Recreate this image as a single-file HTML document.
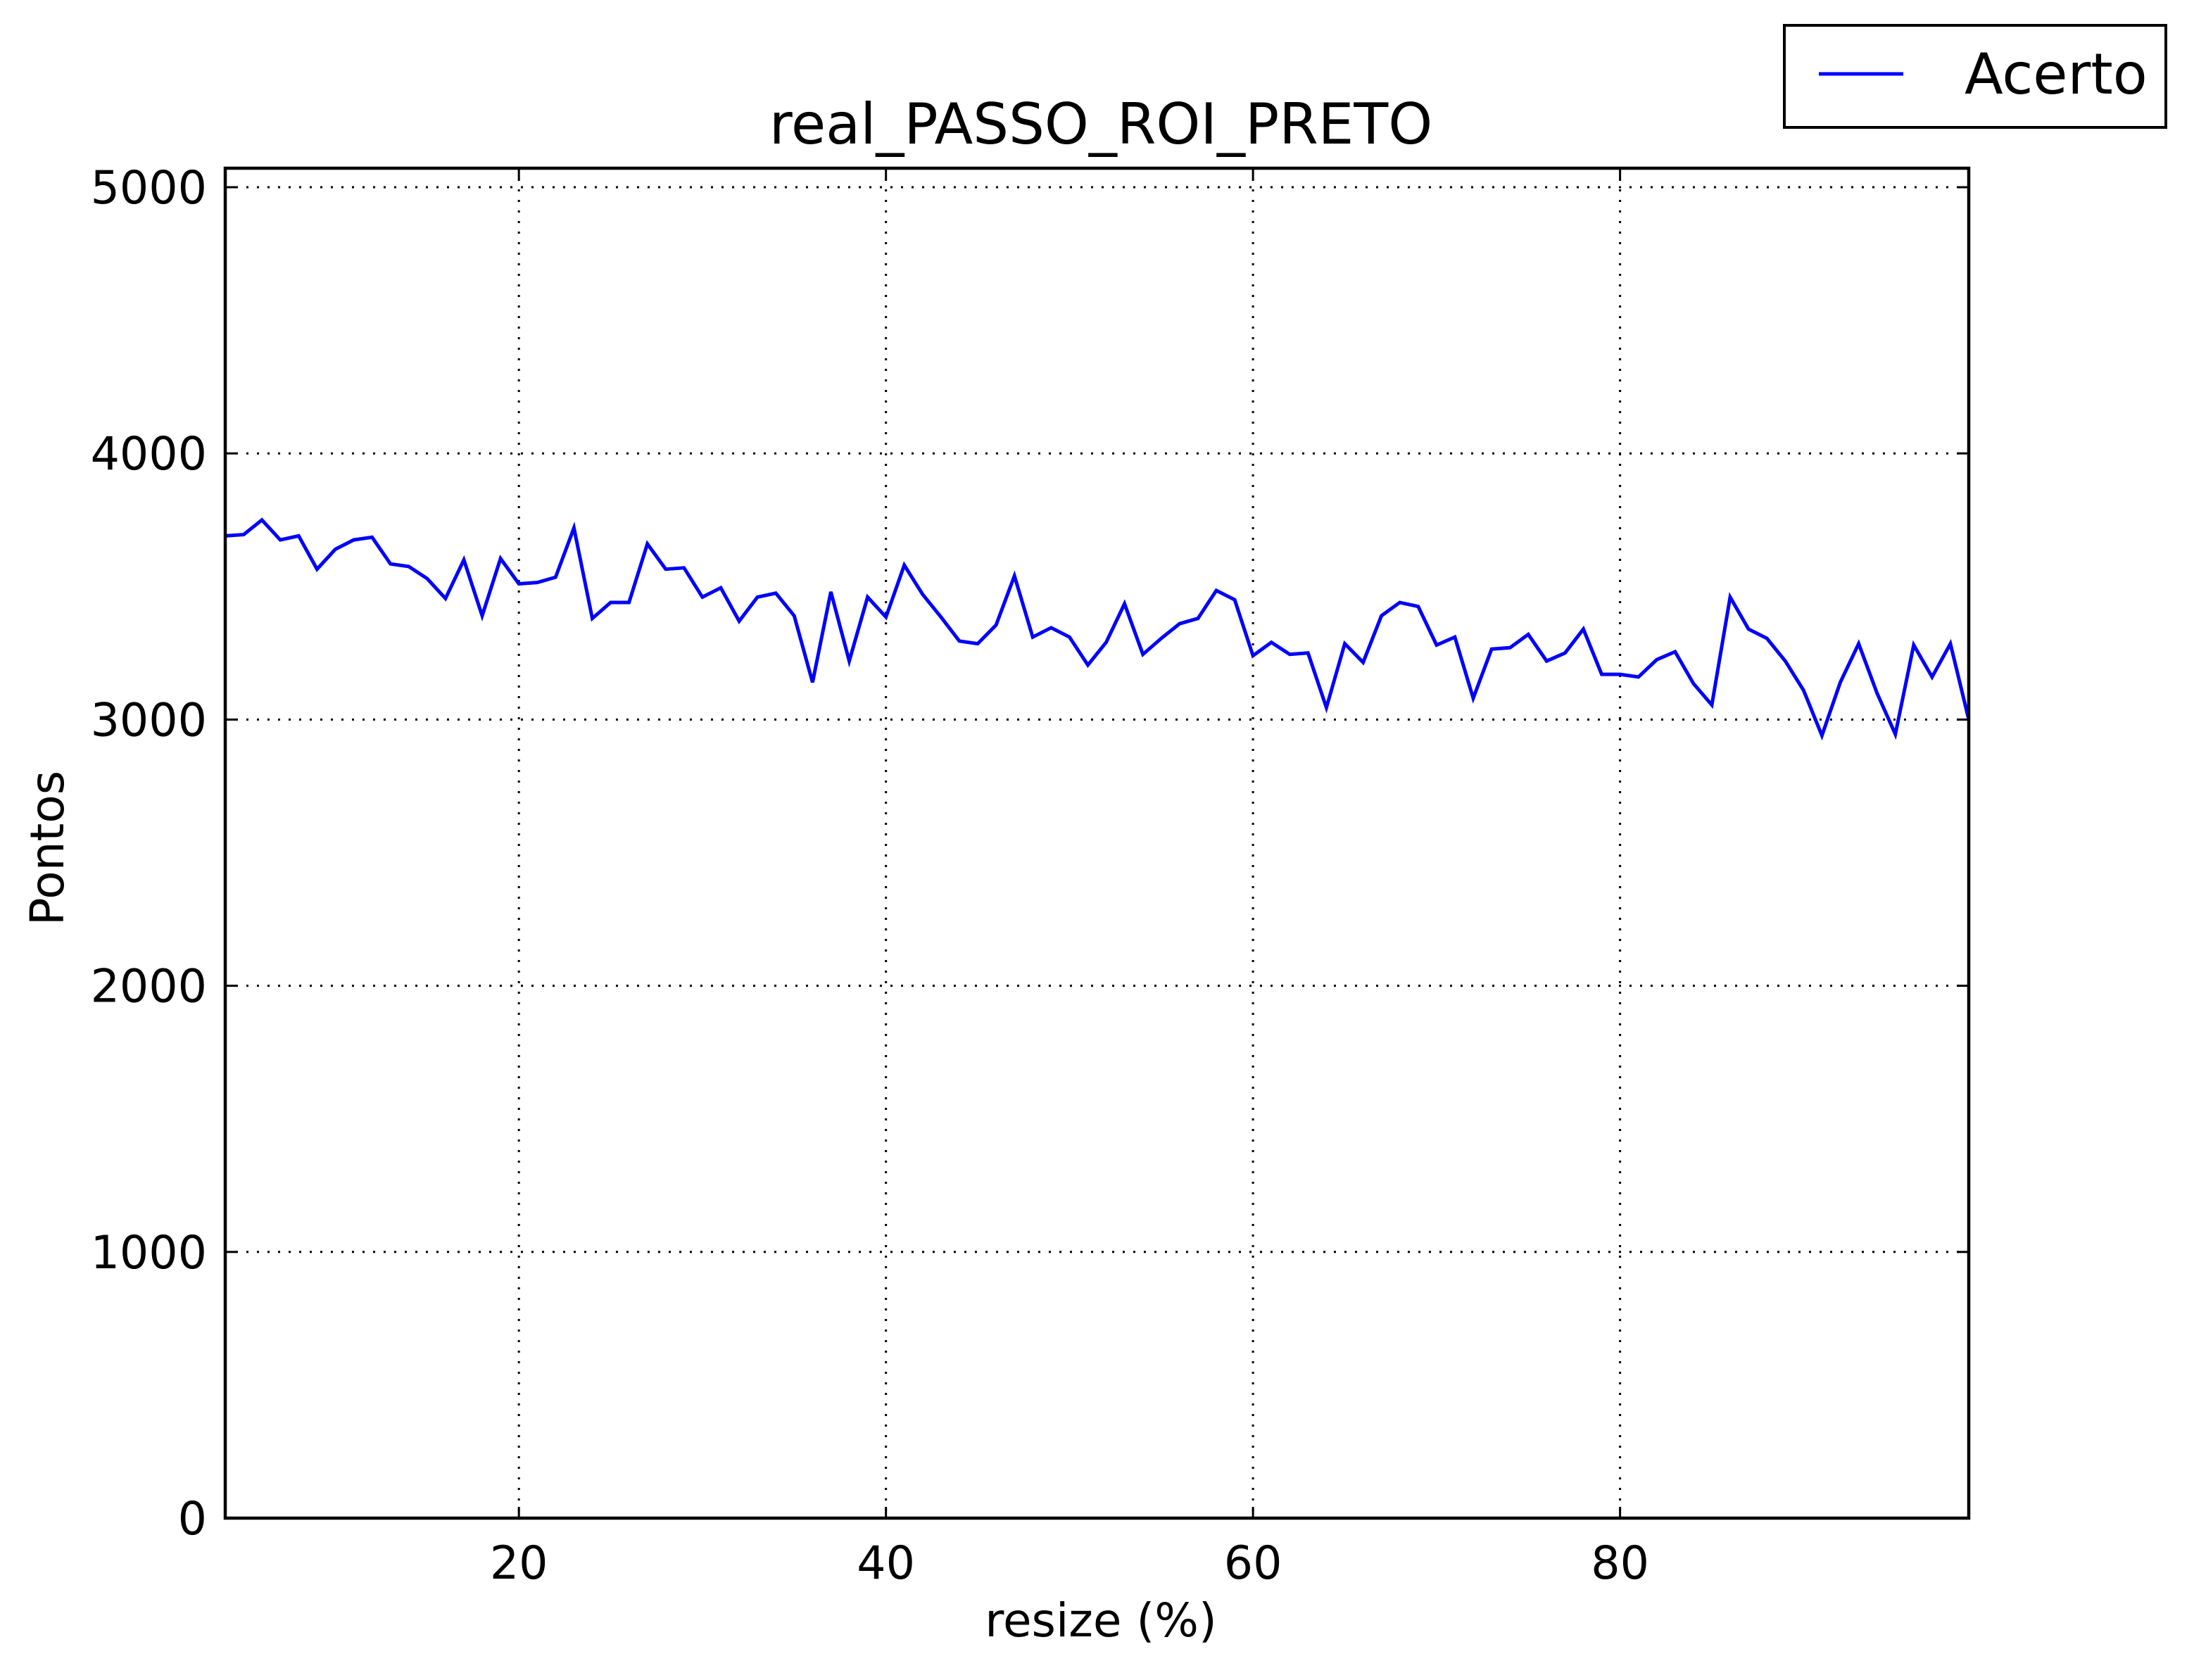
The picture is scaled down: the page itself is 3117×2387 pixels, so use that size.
<!DOCTYPE html>
<html><head><meta charset="utf-8"><style>
html,body{margin:0;padding:0;background:#fff;}
svg text{font-family:"DejaVu Sans","Liberation Sans",sans-serif;}
</style></head><body>
<svg id="chart" width="3117" height="2382" viewBox="0 0 3117 2382" xmlns="http://www.w3.org/2000/svg">
<rect width="3117" height="2382" fill="#fff"/>
<g id="grid"></g>
<g id="ticks"></g>
<path id="series" fill="none" stroke="#0000ff" stroke-width="5" stroke-linejoin="miter"/>
<rect x="320" y="239" width="2477" height="1918" fill="none" stroke="#000" stroke-width="4.5"/>
<g id="labels"></g>
<text x="1564" y="204" font-size="80" text-anchor="middle">real_PASSO_ROI_PRETO</text>
<text x="1564" y="2325" font-size="66" text-anchor="middle">resize (%)</text>
<text transform="translate(90,1205) rotate(-90)" font-size="66" text-anchor="middle">Pontos</text>
<g>
<rect x="2535" y="36" width="542" height="145" fill="#fff" stroke="#000" stroke-width="4"/>
<line x1="2584" y1="105" x2="2704" y2="105" stroke="#0000ff" stroke-width="5"/>
<text x="2791" y="133" font-size="80">Acerto</text>
</g>
</svg>
<script>
const xs = [4,5,6,7,8,9,10,11,12,13,14,15,16,17,18,19,20,21,22,23,24,25,26,27,28,29,30,31,32,33,34,35,36,37,38,39,40,41,42,43,44,45,46,47,48,49,50,51,52,53,54,55,56,57,58,59,60,61,62,63,64,65,66,67,68,69,70,71,72,73,74,75,76,77,78,79,80,81,82,83,84,85,86,87,88,89,90,91,92,93,94,95,96,97,98,99];
const acerto = [3690,3695,3750,3675,3690,3565,3640,3675,3685,3585,3575,3530,3455,3600,3390,3605,3510,3515,3535,3720,3380,3440,3440,3660,3565,3570,3460,3495,3370,3460,3475,3390,3140,3480,3220,3460,3385,3580,3470,3385,3295,3285,3355,3540,3310,3345,3310,3205,3290,3435,3245,3305,3360,3380,3485,3450,3240,3290,3245,3250,3045,3285,3215,3390,3440,3425,3280,3310,3080,3265,3270,3320,3220,3250,3340,3170,3170,3160,3225,3255,3135,3055,3460,3340,3305,3220,3110,2940,3140,3285,3100,2945,3280,3160,3285,3000];
const xTicks = [20,40,60,80];
const yTicks = [0,1000,2000,3000,4000,5000];
const X0=320,X1=2797,Y0=2157,Y1=239;
const xmin=4,xmax=99;
function sx(v){return X0+(v-xmin)/(xmax-xmin)*(X1-X0);}
function sy(v){return 2157-(v/5000)*(2157-266);}
const NS="http://www.w3.org/2000/svg";
const grid=document.getElementById('grid'),ticks=document.getElementById('ticks'),labels=document.getElementById('labels');
function mk(tag,attrs,parent){const e=document.createElementNS(NS,tag);for(const k in attrs)e.setAttribute(k,attrs[k]);parent.appendChild(e);return e;}
xTicks.forEach(t=>{
  const x=sx(t);
  const g=mk('line',{x1:x,y1:Y1,x2:x,y2:Y0,stroke:'#000','stroke-width':3,'stroke-dasharray':'3,12'},grid);
  
  
  const a=mk('line',{x1:x,y1:Y0,x2:x,y2:Y0-16,stroke:'#000','stroke-width':3},ticks);
  
  
  const b=mk('line',{x1:x,y1:Y1,x2:x,y2:Y1+16,stroke:'#000','stroke-width':3},ticks);
  
  
  const l=mk('text',{x:x,y:2243,'font-size':65,'text-anchor':'middle'},labels);
  l.textContent=t;
  
  
});
yTicks.forEach(t=>{
  const y=sy(t);
  if(t>0){
  const g=mk('line',{x1:X0,y1:y,x2:X1,y2:y,stroke:'#000','stroke-width':3,'stroke-dasharray':'3,12'},grid);
  
  }
  const a=mk('line',{x1:X0,y1:y,x2:X0+16,y2:y,stroke:'#000','stroke-width':3},ticks);
  
  
  const b=mk('line',{x1:X1,y1:y,x2:X1-16,y2:y,stroke:'#000','stroke-width':3},ticks);
  
  
  const l=mk('text',{x:294,y:y+23,'font-size':65,'text-anchor':'end'},labels);
  l.textContent=t;
  
  
});
let d='';
xs.forEach((x,i)=>{d+=(i?'L':'M')+sx(x).toFixed(1)+','+sy(acerto[i]).toFixed(1);});
document.getElementById('series').setAttribute('d',d);
</script>
</body></html>
